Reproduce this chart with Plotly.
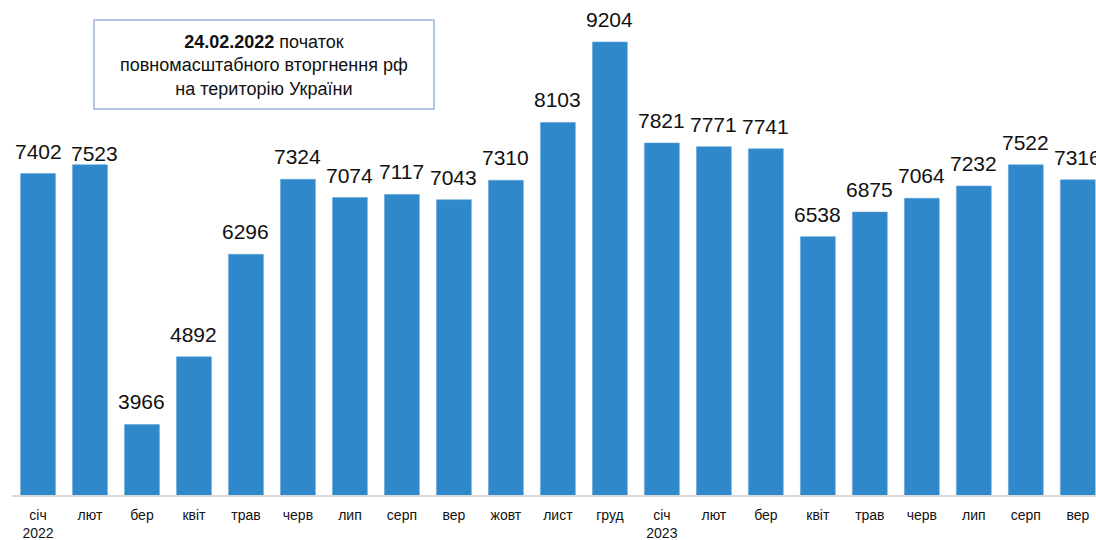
import plotly.graph_objects as go

months = ["січ<br>2022", "лют", "бер", "квіт", "трав", "черв", "лип", "серп", "вер", "жовт",
          "лист", "груд", "січ<br>2023", "лют", "бер", "квіт", "трав", "черв", "лип", "серп", "вер"]
values = [7402, 7523, 3966, 4892, 6296, 7324, 7074, 7117, 7043, 7310,
          8103, 9204, 7821, 7771, 7741, 6538, 6875, 7064, 7232, 7522, 7316]
y_axis_min = 3000

FONT = "Liberation Sans, Arial, sans-serif"
# label offsets (style only): default lift above bar, with a manual nudge like the original
LABEL_YSHIFT = 9
LABEL_NUDGE = {1: (5, -11)}

positions = list(range(len(values)))

fig = go.Figure()
fig.add_trace(go.Bar(
    x=positions, y=values,
    marker=dict(color="#2e88c9", line=dict(color="#5aa3d8", width=0.6)),
    width=0.67,
    hoverinfo="y",
))

for i, v in zip(positions, values):
    dx, dy = LABEL_NUDGE.get(i, (0, 0))
    fig.add_annotation(x=i, y=v, xref="x", yref="y", text=str(v), showarrow=False,
                       xanchor="center", yanchor="bottom",
                       xshift=dx, yshift=LABEL_YSHIFT + dy,
                       font=dict(family=FONT, size=21, color="#111111"))

fig.update_layout(
    width=1096, height=540,
    margin=dict(l=12, r=0, t=5, b=45),
    paper_bgcolor="white", plot_bgcolor="white",
    showlegend=False,
    xaxis=dict(
        range=[-0.5, 20.35], automargin=False,
        tickmode="array", tickvals=positions, ticktext=months,
        tickfont=dict(family=FONT, size=14, color="#111111"),
        ticks="outside", ticklen=6, tickcolor="rgba(0,0,0,0)",
        showline=True, linecolor="#d9d9d9", linewidth=2,
        showgrid=False, zeroline=False,
    ),
    yaxis=dict(range=[y_axis_min, 9711], visible=False, automargin=False,
               showgrid=False, zeroline=False),
)

fig.add_shape(type="rect", xref="paper", yref="paper",
              x0=0.0756, x1=0.3893, y0=0.7878, y1=0.9694,
              line=dict(color="#9db3e0", width=1.5), fillcolor="white", layer="above")
fig.add_annotation(xref="paper", yref="paper", x=0.2325, y=0.8765,
                   xanchor="center", yanchor="middle",
                   text="<b>24.02.2022</b> початок<br>повномасштабного вторгнення рф<br>на територію України",
                   showarrow=False, align="center",
                   font=dict(family=FONT, size=18, color="#111111"))

fig.write_html("out.html", config={"displayModeBar": False},
               post_script="document.body.style.margin='0';document.body.style.overflow='hidden';")
